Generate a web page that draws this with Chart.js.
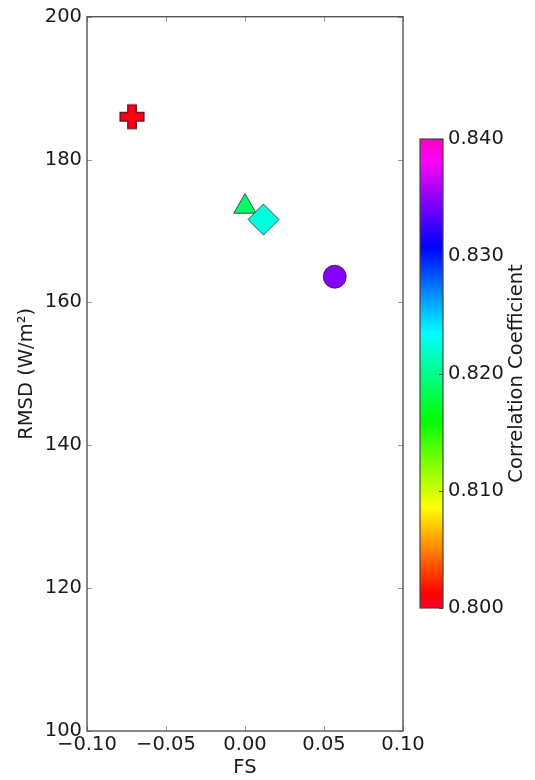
<!DOCTYPE html>
<html><head><meta charset="utf-8">
<script src="https://cdn.jsdelivr.net/npm/chart.js@4/dist/chart.umd.min.js"></script>
<style>
html,body{margin:0;padding:0;background:#fff;}
#wrap{position:relative;width:535px;height:780px;}
#wrap canvas{position:absolute;left:0;top:0;}
</style></head><body>
<div id="wrap"><canvas id="main" width="535" height="780"></canvas><canvas id="cbar" width="535" height="780"></canvas></div>
<script>
// ---- data ----
const fsValues   = [-0.0715, 0.000, 0.0117, 0.0568];
const rmsdValues = [186.0, 173.4, 171.6, 163.6];
const corrValues = [0.8005, 0.819, 0.8225, 0.8347];
const markerShapes = ['plus', 'triangle', 'diamond', 'circle'];
const xTicks = [-0.10, -0.05, 0.00, 0.05, 0.10];
const yTicks = [100, 120, 140, 160, 180, 200];
const cbarTicks = [0.800, 0.810, 0.820, 0.830, 0.840];
const cbarMin = 0.800, cbarMax = 0.840;
const xLabel = 'FS';
const yLabel = 'RMSD (W/m\u00B2)';
const cbarLabel = 'Correlation Coefficient';

// ---- style ----
const FONT = "'DejaVu Sans', sans-serif";
const FS = 19.5;
const TXT = '#1a1a1a';
// gist_rainbow colormap stops
const cmapStops = [
  [0.000, [1, 0, 0.16]], [0.030, [1, 0, 0]], [0.215, [1, 1, 0]], [0.400, [0, 1, 0]],
  [0.586, [0, 1, 1]], [0.770, [0, 0, 1]], [0.954, [1, 0, 1]], [1.000, [1, 0, 0.75]]
];
function cmap(t) {
  t = Math.max(0, Math.min(1, t));
  for (let i = 1; i < cmapStops.length; i++) {
    const [p1, c1] = cmapStops[i], [p0, c0] = cmapStops[i - 1];
    if (t <= p1) {
      const f = (t - p0) / (p1 - p0);
      const c = c0.map((v, k) => Math.round(255 * (v + (c1[k] - v) * f)));
      return `rgb(${c[0]},${c[1]},${c[2]})`;
    }
  }
  return 'rgb(255,0,191)';
}
function colorFor(v) { return cmap((v - cbarMin) / (cbarMax - cbarMin)); }

function makePlus(color) {
  const c = document.createElement('canvas'); c.width = 28; c.height = 28;
  const g = c.getContext('2d'); const L = 12, T = 4.3, cx = 14, cy = 14;
  g.beginPath();
  g.moveTo(cx - T, cy - L); g.lineTo(cx + T, cy - L); g.lineTo(cx + T, cy - T); g.lineTo(cx + L, cy - T);
  g.lineTo(cx + L, cy + T); g.lineTo(cx + T, cy + T); g.lineTo(cx + T, cy + L); g.lineTo(cx - T, cy + L);
  g.lineTo(cx - T, cy + T); g.lineTo(cx - L, cy + T); g.lineTo(cx - L, cy - T); g.lineTo(cx - T, cy - T);
  g.closePath();
  g.fillStyle = color; g.fill();
  g.strokeStyle = 'rgba(50,0,0,0.85)'; g.lineWidth = 1.2; g.stroke();
  return c;
}
const pointColors = corrValues.map(colorFor);
const styleMap = { triangle: 'triangle', diamond: 'rectRot', circle: 'circle' };
const radiusMap = { plus: 12, triangle: 13, diamond: 15.5, circle: 11.5 };
const pointStyles = markerShapes.map((s, i) => s === 'plus' ? makePlus(pointColors[i]) : styleMap[s]);
const pointRadii = markerShapes.map(s => radiusMap[s]);

const frameTicks = {
  id: 'frameTicks',
  afterDraw(chart) {
    const { ctx, chartArea: a } = chart;
    const xs = chart.scales.x, ys = chart.scales.y;
    ctx.save();
    ctx.strokeStyle = '#9a9a9a'; ctx.lineWidth = 1;
    xs.ticks.forEach(t => {
      const px = Math.round(xs.getPixelForValue(t.value)) + 0.5;
      ctx.beginPath(); ctx.moveTo(px, a.bottom); ctx.lineTo(px, a.bottom - 5);
      ctx.moveTo(px, a.top); ctx.lineTo(px, a.top + 5); ctx.stroke();
    });
    ys.ticks.forEach(t => {
      const py = Math.round(ys.getPixelForValue(t.value)) + 0.5;
      ctx.beginPath(); ctx.moveTo(a.left, py); ctx.lineTo(a.left + 5, py);
      ctx.moveTo(a.right, py); ctx.lineTo(a.right - 5, py); ctx.stroke();
    });
    ctx.strokeStyle = '#555'; ctx.lineWidth = 1.4;
    ctx.strokeRect(a.left, a.top, a.right - a.left, a.bottom - a.top);
    ctx.restore();
  }
};

new Chart(document.getElementById('main'), {
  type: 'scatter',
  data: {
    datasets: [{
      data: fsValues.map((x, i) => ({ x, y: rmsdValues[i] })),
      pointStyle: pointStyles,
      pointRadius: pointRadii,
      pointHoverRadius: pointRadii,
      backgroundColor: pointColors,
      borderColor: 'rgba(25,25,25,0.75)',
      borderWidth: 1
    }]
  },
  options: {
    responsive: false, animation: false, devicePixelRatio: 1,
    layout: { padding: { left: 0, right: 132, top: 16, bottom: 0 } },
    plugins: { legend: { display: false }, tooltip: { enabled: false } },
    scales: {
      x: {
        type: 'linear', min: -0.10, max: 0.10,
        afterBuildTicks: s => { s.ticks = xTicks.map(v => ({ value: v })); },
        afterFit: s => { s.height = 49; },
        grid: { display: false, drawTicks: false },
        border: { display: false },
        ticks: {
          padding: 2, color: TXT, font: { family: FONT, size: FS }, maxRotation: 0,
          callback: v => Number(v).toFixed(2).replace('-', '\u2212')
        },
        title: { display: true, text: xLabel, color: TXT, font: { family: FONT, size: FS }, padding: { top: 0, bottom: 0 } }
      },
      y: {
        type: 'linear', min: 100, max: 200,
        afterBuildTicks: s => { s.ticks = yTicks.map(v => ({ value: v })); },
        afterFit: s => { s.width = 87; },
        grid: { display: false, drawTicks: false },
        border: { display: false },
        ticks: { padding: 5, color: TXT, font: { family: FONT, size: FS }, callback: v => String(v) },
        title: { display: true, text: yLabel, color: TXT, font: { family: FONT, size: FS }, padding: { top: 15, bottom: 0 } }
      }
    }
  },
  plugins: [frameTicks]
});

const cbarPlugin = {
  id: 'cbarPlugin',
  beforeDatasetsDraw(chart) {
    const { ctx, chartArea: a } = chart;
    const g = ctx.createLinearGradient(0, a.bottom, 0, a.top);
    cmapStops.forEach(([p]) => g.addColorStop(p, cmap(p)));
    ctx.save();
    ctx.fillStyle = g;
    ctx.fillRect(a.left, a.top, a.right - a.left, a.bottom - a.top);
    ctx.restore();
  },
  afterDraw(chart) {
    const { ctx, chartArea: a } = chart;
    const ys = chart.scales.y;
    ctx.save();
    ctx.strokeStyle = 'rgba(40,40,40,0.8)'; ctx.lineWidth = 1;
    ys.ticks.forEach(t => {
      const py = Math.round(ys.getPixelForValue(t.value)) + 0.5;
      ctx.beginPath(); ctx.moveTo(a.right, py); ctx.lineTo(a.right - 4, py); ctx.stroke();
    });
    ctx.strokeStyle = '#444'; ctx.lineWidth = 1.2;
    ctx.strokeRect(a.left, a.top, a.right - a.left, a.bottom - a.top);
    // colorbar label, reading bottom-to-top
    ctx.fillStyle = TXT;
    ctx.font = `${FS}px ${FONT}`;
    ctx.textAlign = 'center'; ctx.textBaseline = 'middle';
    ctx.translate(517, (a.top + a.bottom) / 2);
    ctx.rotate(-Math.PI / 2);
    ctx.fillText(cbarLabel, 0, 0);
    ctx.restore();
  }
};

new Chart(document.getElementById('cbar'), {
  type: 'scatter',
  data: { datasets: [] },
  options: {
    responsive: false, animation: false, devicePixelRatio: 1,
    layout: { padding: { left: 420, right: 0, top: 139, bottom: 172 } },
    plugins: { legend: { display: false }, tooltip: { enabled: false } },
    scales: {
      x: { type: 'linear', display: false, min: 0, max: 1 },
      y: {
        type: 'linear', position: 'right', min: cbarMin, max: cbarMax,
        afterBuildTicks: s => { s.ticks = cbarTicks.map(v => ({ value: v })); },
        afterFit: s => { s.width = 92; },
        grid: { display: false, drawTicks: false },
        border: { display: false },
        ticks: { padding: 5, color: TXT, font: { family: FONT, size: FS }, callback: v => Number(v).toFixed(3) }
      }
    }
  },
  plugins: [cbarPlugin]
});
</script>
</body></html>
